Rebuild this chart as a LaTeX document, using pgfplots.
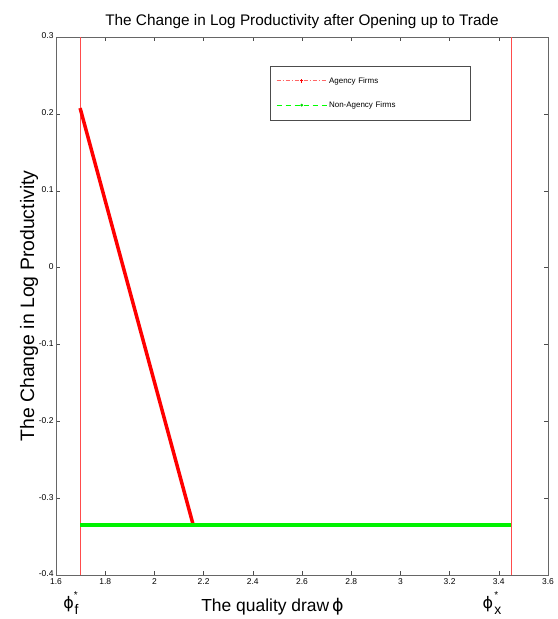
\documentclass[border=0pt]{standalone}
\usepackage{pgfplots}
\pgfplotsset{compat=1.18}
\usepackage{fontspec}
\setmainfont{Liberation Sans}
\newfontfamily\dejavu{DejaVu Sans}
\begin{document}
\begin{tikzpicture}
\begin{axis}[
  scale only axis,
  width=492bp, height=538bp,
  at={(0,0)}, anchor=south west,
  xmin=1.6, xmax=3.6, ymin=-0.4, ymax=0.3,
  xtick={1.6,1.8,...,3.6},
  ytick={-0.4,-0.3,...,0.3},
  xticklabels={1.6,1.8,2,2.2,2.4,2.6,2.8,3,3.2,3.4,3.6},
  yticklabels={-0.4,-0.3,-0.2,-0.1,0,0.1,0.2,0.3},
  tick align=inside,
  tick pos=both,
  major tick length=4bp,
  ticklabel style={font=\fontsize{8.5}{9}\selectfont},
  xticklabel style={yshift=-0.5bp},
  yticklabel style={xshift=1bp, yshift=1bp},
  axis line style={black!60},
  every tick/.style={black!70},
  title={\fontsize{15.4}{18}\selectfont The Change in Log Productivity after Opening up to Trade},
  title style={yshift=-1bp},
  ylabel={\fontsize{19.5}{22}\selectfont The Change in Log Productivity},
  ylabel style={yshift=-6bp},
  legend style={at={(rel axis cs:0.435,0.946)}, anchor=north west, draw=black!70,
     font=\fontsize{8}{9}\selectfont, inner xsep=6bp, inner ysep=9bp,
     row sep=13bp, text width=133bp},
  legend cell align=left,
  clip=false,
]
\addlegendimage{legend image code/.code={\draw[draw=red!60, dash pattern=on 4bp off 2bp on 1bp off 2bp, line width=0.9bp] (0bp,0bp) -- (50bp,0bp); \draw[draw=red, line width=0.8bp] (25bp,-1.8bp) -- (25bp,1.8bp) (23.2bp,0bp) -- (26.8bp,0bp);}}
\addlegendentry{Agency Firms}
\addlegendimage{legend image code/.code={\draw[draw=green, dash pattern=on 5bp off 4bp, line width=0.9bp] (0bp,0bp) -- (50bp,0bp); \fill[green!85!black] (25bp,0bp) circle (1.2bp);}}
\addlegendentry{Non-Agency Firms}
\addplot[red!70, line width=0.6bp, forget plot] coordinates {(1.698,-0.4) (1.698,0.3)};
\addplot[red!70, line width=0.6bp, forget plot] coordinates {(3.45,-0.4) (3.45,0.3)};
\addplot[red, line width=3.5bp, forget plot] coordinates {(1.698,0.2075) (2.157,-0.334)};
\addplot[green!95!black, line width=4bp, forget plot] coordinates {(1.698,-0.335) (3.45,-0.335)};
\node[anchor=base, font=\fontsize{17.5}{20}\selectfont] at (axis cs:2.48,-0.4) [yshift=-36bp] {The quality draw\,{\dejavu ϕ}};
% phi_f^*
\node[anchor=base, inner sep=0pt, font=\fontsize{16}{18}\dejavu] at (axis cs:1.651,-0.4) [yshift=-33bp] {ϕ};
\node[anchor=base west, inner sep=0pt, font=\fontsize{14}{16}\selectfont] at (axis cs:1.675,-0.4) [yshift=-39bp] {f};
\node[inner sep=0pt, font=\fontsize{10}{10}\selectfont] at (axis cs:1.681,-0.4) [yshift=-20bp] {*};
% phi_x^*
\node[anchor=base, inner sep=0pt, font=\fontsize{16}{18}\dejavu] at (axis cs:3.356,-0.4) [yshift=-33bp] {ϕ};
\node[anchor=base west, inner sep=0pt, font=\fontsize{14}{16}\selectfont] at (axis cs:3.381,-0.4) [yshift=-39bp] {x};
\node[inner sep=0pt, font=\fontsize{10}{10}\selectfont] at (axis cs:3.39,-0.4) [yshift=-20bp] {*};
\end{axis}
\path[use as bounding box] (-56bp,-44bp) rectangle (501bp,575bp);
\end{tikzpicture}
\end{document}
